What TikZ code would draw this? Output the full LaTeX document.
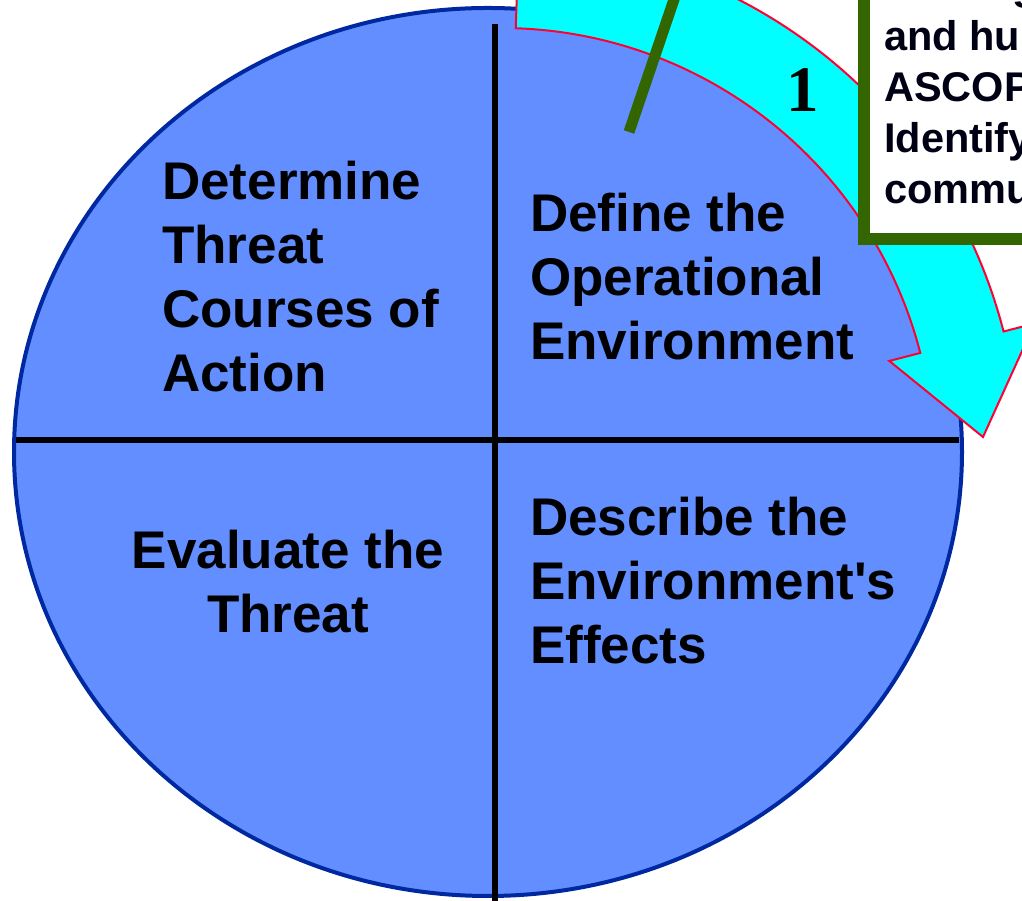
\documentclass[tikz,border=0pt]{standalone}
\usepackage{fontspec}
\setmainfont{Liberation Sans}
\newfontfamily\numfont{Liberation Serif}
\definecolor{circfill}{RGB}{98,142,255}
\definecolor{circline}{RGB}{0,40,160}
\definecolor{arrowcyan}{RGB}{0,255,255}
\definecolor{arrowred}{RGB}{255,0,51}
\definecolor{boxgreen}{RGB}{51,102,0}
\definecolor{boxtext}{RGB}{0,0,20}
\begin{document}
\begin{tikzpicture}[x=1pt,y=1pt,
  quadtext/.style={inner sep=0pt, font=\bfseries\fontsize{53}{64}\selectfont, text=black},
  notetext/.style={inner sep=0pt, font=\bfseries\fontsize{41.5}{51}\selectfont, text=boxtext, align=left, anchor=north west},
  divider/.style={line width=6pt, black},
  cyanarrow/.style={draw=arrowred, fill=arrowcyan, line width=2pt, line join=miter},
  notebox/.style={draw=boxgreen, fill=white, line width=12pt},
  pointer/.style={draw=boxgreen, line width=11pt}]
\useasboundingbox (0,0) rectangle (1022,901);
\clip (0,0) rectangle (1022,901);

% circle (ellipse)
\draw[draw=circline, fill=circfill, line width=4pt] (488,449) ellipse [x radius=474, y radius=444];

% dividers
\coordinate (vtop) at (495,877);
\coordinate (vbot) at (495,-10);
\coordinate (hleft) at (16,461);
\coordinate (hright) at (959,461);
\draw[divider] (vtop) -- (vbot);
\draw[divider] (hleft) -- (hright);

% quadrant texts
\node[quadtext, align=left, anchor=north west] (dtc) at (162,742)
  {\rule{0pt}{40pt}Determine\\Threat\\Courses of\\Action};
\node[quadtext, align=left, anchor=north west] (doe) at (530,710)
  {\rule{0pt}{40pt}Define the\\Operational\\Environment};
\node[quadtext, align=center, anchor=north] (ett) at (288,373)
  {\rule{0pt}{40pt}Evaluate the\\Threat};
\node[quadtext, align=left, anchor=north west] (dee) at (530,406)
  {\rule{0pt}{40pt}Describe the\\Environment\textquotesingle s\\Effects};

% curved cyan arrow
\coordinate (ac) at (501,440);
\path[cyanarrow] ([shift={(ac)}]88.05:433) arc[start angle=88.05, end angle=14.45, radius=433]
  -- ([shift={(ac)}]14.45:401)
  -- ([shift={(ac)}]2.85:482.6)
  -- ([shift={(ac)}]14.45:551)
  -- ([shift={(ac)}]14.45:519)
  arc[start angle=14.45, end angle=88.05, radius=519] -- cycle;

\node[inner sep=0pt, font=\numfont\bfseries\fontsize{65}{65}\selectfont] (one) at (803,811) {1};

% pointer line
\coordinate (pa) at (629,769);
\coordinate (pb) at (684,931);
\draw[pointer] (pa) -- (pb);

% note box
\draw[notebox] (864,662) rectangle (1100,960);
\node[notetext] (note) at (884,932)
  {\rule{0pt}{30pt}\hspace*{128pt}g\\and hu\\ASCOP\\Identify\\commu};
\end{tikzpicture}
\end{document}
